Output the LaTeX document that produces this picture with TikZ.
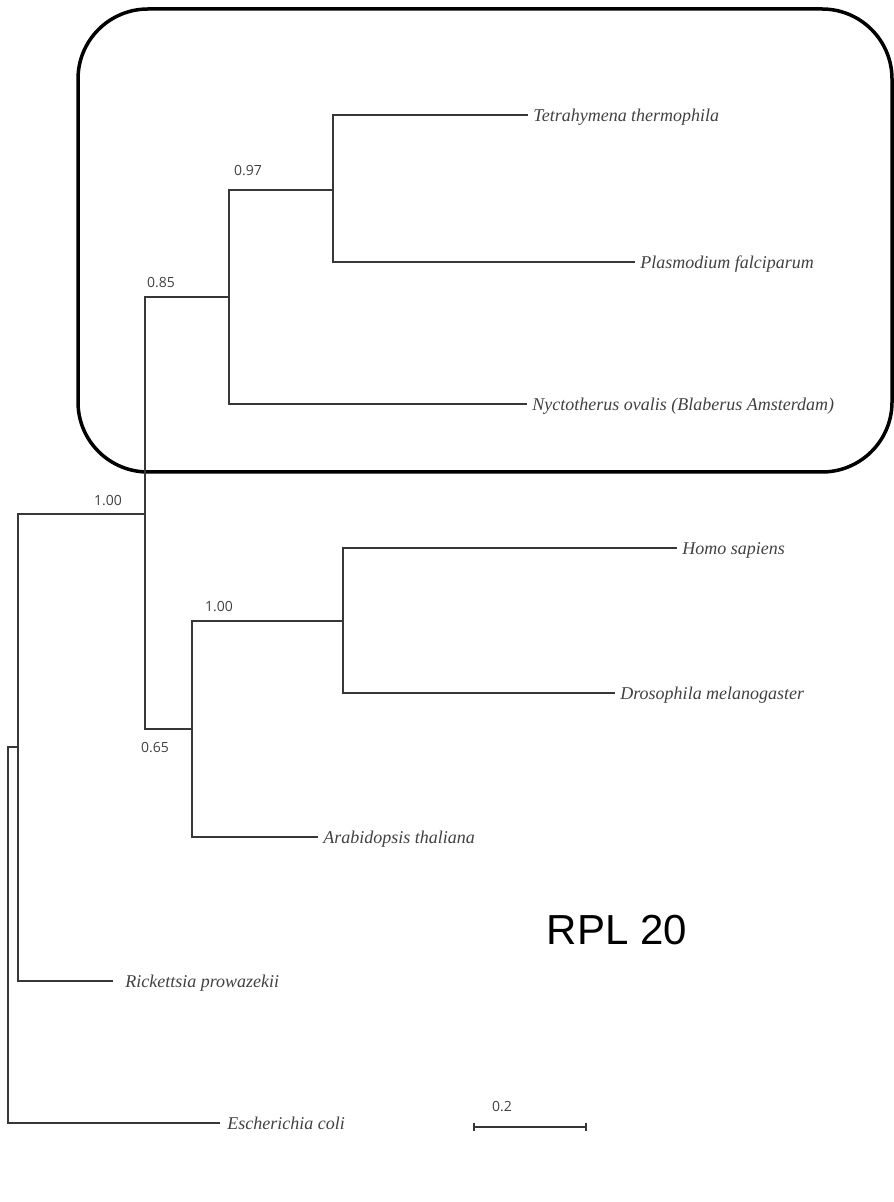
\documentclass[tikz,border=0pt]{standalone}
\usepackage{fontspec}
\setmainfont{Liberation Serif}
\newfontfamily\bootfont{Open Sans}
\newfontfamily\titlefont{Liberation Sans}
\usepackage{tikz}
\usetikzlibrary{arrows.meta,positioning}
\definecolor{branchgrey}{RGB}{55,55,55}
\definecolor{labelgrey}{RGB}{65,65,65}

\begin{document}
\begin{tikzpicture}[
        x=0.5pt, y=-0.5pt,
        branch/.style={draw=branchgrey, line width=0.7pt},
        taxon/.style={anchor=west, inner ysep=0pt, inner xsep=2.5pt, text height=0.62em, text depth=0pt, font=\itshape\fontsize{9}{10}\selectfont, text=labelgrey},
        support/.style={inner sep=0pt, font=\bootfont\fontsize{7}{8}\selectfont, text=labelgrey},
        clade/.style={draw=black, line width=1.75pt, rounded corners=35pt}
    ]
        \useasboundingbox (0,0) rectangle (893,1202);

        % Highlighted clade
        \draw[clade] (78,9) rectangle (892,472);

        % Taxa
        \node[taxon] (tetra) at (528,115) {Tetrahymena thermophila};
        \node[taxon] (plasm) at (635,262) {Plasmodium falciparum};
        \node[taxon] (nyct) at (527,404) {Nyctotherus ovalis (Blaberus Amsterdam)};
        \node[taxon] (homo) at (677,548) {Homo sapiens};
        \node[taxon] (droso) at (615,693) {Drosophila melanogaster};
        \node[taxon] (arab) at (318,837) {Arabidopsis thaliana};
        \node[taxon, inner xsep=6pt] (rick) at (113,981) {Rickettsia prowazekii};
        \node[taxon, inner xsep=3.5pt] (ecoli) at (220,1123) {Escherichia coli};

        % Internal nodes
        \coordinate (cTP) at (333,190);
        \coordinate (cTPN) at (229,297);
        \coordinate (cEuk) at (145,514);
        \coordinate (cHD) at (343,621);
        \coordinate (cHDA) at (192,729);
        \coordinate (cBac) at (18,747);
        \coordinate (root) at (8,935);

        % Branches
        \draw[branch] (tetra.west) -| (cTP) |- (plasm.west);
        \draw[branch] (cTP) -| (cTPN) |- (nyct.west);
        \draw[branch] (cTPN) -| (cEuk) |- (cHDA);
        \draw[branch] (homo.west) -| (cHD) |- (droso.west);
        \draw[branch] (cHD) -| (cHDA) |- (arab.west);
        \draw[branch] (cEuk) -| (cBac) |- (rick.west);
        \draw[branch] (cBac) -| (root) |- (ecoli.west);

        % Support values
        \node[support] (s097) at (248,171) {0.97};
        \node[support] (s085) at (161,283) {0.85};
        \node[support] (s100a) at (108,501) {1.00};
        \node[support] (s100b) at (219,607) {1.00};
        \node[support] (s065) at (155,748) {0.65};

        % Scale bar
        \coordinate (sbl) at (473,1127);
        \coordinate (sbr) at (587,1127);
        \draw[branch, line width=1pt, {Bar[width=4pt]}-{Bar[width=4pt]}] (sbl) -- (sbr);
        \node[support] (sblab) at (502,1107) {0.2};

        % Gene name
        \node[font=\titlefont\fontsize{21}{24}\selectfont] (gene) at (617,930) {RPL 20};
    \end{tikzpicture}
\end{document}
